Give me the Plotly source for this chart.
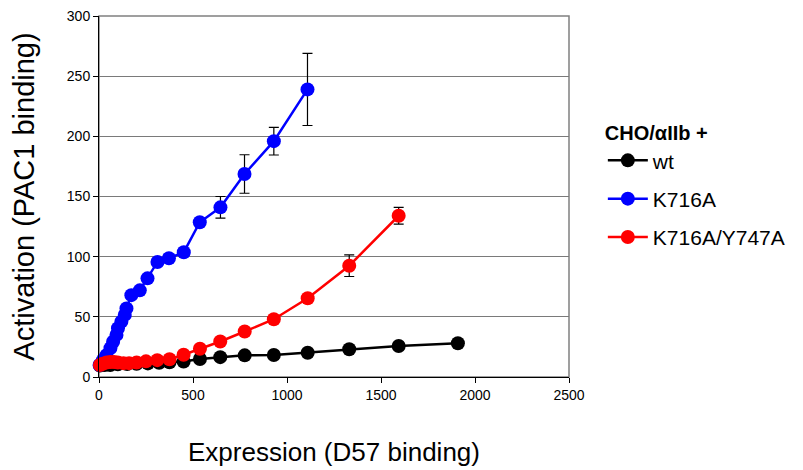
import plotly.graph_objects as go

# ---- data ----
wt_x = [5, 30, 60, 100, 150, 200, 260, 320, 375, 450, 537, 645, 775, 930, 1110, 1331, 1594, 1909]
wt_y = [9.5, 10, 10, 10.5, 10.8, 11, 11.3, 11.8, 12.2, 12.8, 15, 16.5, 18, 18.3, 20.2, 23, 25.8, 28]
wt_err = [0, 0, 0, 0, 0, 0, 0, 0, 0, 0.5, 0.8, 0.8, 1, 1, 1, 1, 1, 1]

k_x = [3, 21, 39, 61, 75, 93, 101, 119, 137, 146, 172, 217, 258, 311, 372, 451, 536, 646, 774, 930, 1109]
k_y = [10, 14, 18, 24, 29.3, 35, 40.5, 46, 51.6, 57, 68, 72, 82, 95.6, 98.7, 103.7, 128.6, 141, 168.7, 196, 239]
k_err = [0, 0, 0, 0, 0, 0, 0, 0, 0, 0, 0, 1.5, 2.5, 2.5, 2, 1, 1.5, 9, 16, 11.5, 30]

r_x = [5, 20, 40, 60, 80, 100, 130, 160, 200, 250, 310, 375, 450, 537, 645, 775, 930, 1110, 1331, 1594]
r_y = [10, 11, 12, 12.5, 12.5, 12, 11.5, 11.5, 12, 13, 14, 14.7, 18.5, 23.5, 29.5, 37.8, 48, 65.4, 92.5, 134]
r_err = [0, 0, 0, 0, 0, 0, 0, 0, 0, 0, 0, 0, 0, 0, 0, 0, 1, 1.5, 9, 7]

x_ticks = [0, 500, 1000, 1500, 2000, 2500]
y_ticks = [0, 50, 100, 150, 200, 250, 300]

series = [
    ("wt", wt_x, wt_y, wt_err, "#000000"),
    ("K716A", k_x, k_y, k_err, "#0000ff"),
    ("K716A/Y747A", r_x, r_y, r_err, "#ff0000"),
]

fig = go.Figure()
for name, xs, ys, es, col in series:
    fig.add_trace(go.Scatter(
        x=xs, y=ys, name=name, mode="lines+markers", legendgroup=name,
        line=dict(color=col, width=2.5),
        marker=dict(color=col, size=14, symbol="circle"),
        error_y=dict(type="data", array=es, visible=True, color="#000000",
                     thickness=1.2, width=5),
        cliponaxis=False,
    ))

font_main = "Liberation Sans, Arial, sans-serif"
fig.update_layout(
    width=803, height=470,
    margin=dict(l=99, r=234, t=16, b=93),
    paper_bgcolor="white", plot_bgcolor="white",
    font=dict(family=font_main, color="#000000"),
    showlegend=True,
    legend=dict(
        title=dict(text="<b>CHO/αIIb +</b>", font=dict(size=20, family=font_main)),
        font=dict(size=21, family=font_main),
        x=1.072, xanchor="left", y=0.728, yanchor="top",
        tracegroupgap=8, itemwidth=40,
        bgcolor="rgba(0,0,0,0)",
    ),
    xaxis=dict(
        range=[0, 2500], tickvals=x_ticks, ticktext=[str(v) for v in x_ticks],
        showgrid=False, zeroline=False, automargin=False,
        showline=True, linecolor="#000000", linewidth=1,
        ticks="outside", ticklen=5, tickcolor="#000000",
        tickfont=dict(size=14),
        title=dict(text="Expression (D57 binding)", font=dict(size=26), standoff=41),
    ),
    yaxis=dict(
        range=[0, 300], tickvals=y_ticks, ticktext=[str(v) for v in y_ticks],
        showgrid=True, gridcolor="#7a7a7a", gridwidth=1, zeroline=False, automargin=False,
        showline=True, linecolor="#000000", linewidth=1,
        ticks="outside", ticklen=5, tickcolor="#000000",
        tickfont=dict(size=14),
        title=dict(text="Activation (PAC1 binding)", font=dict(size=29), standoff=23),
    ),
    shapes=[dict(type="rect", xref="paper", yref="paper", x0=0, x1=1, y0=0, y1=1,
                 line=dict(color="#808080", width=1.5), layer="below")],
)

fig.write_html("out.html")
